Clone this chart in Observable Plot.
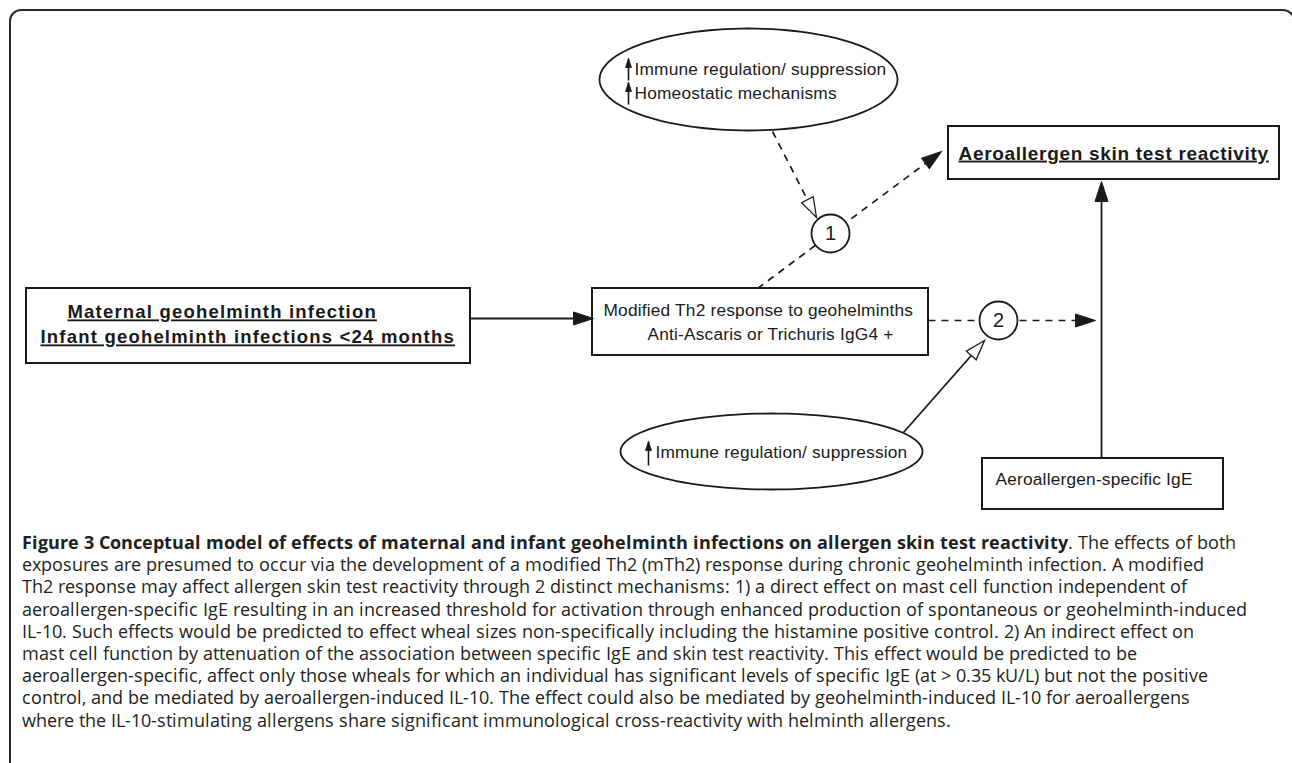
<!DOCTYPE html>
<html><head><meta charset="utf-8">
<script src="https://cdn.jsdelivr.net/npm/d3@7"></script>
<script src="https://cdn.jsdelivr.net/npm/@observablehq/plot@0.6"></script>
<style>
@font-face{font-family:"CaptionSans";src:local("Open Sans"),local("Open Sans Regular"),local("OpenSans-Regular");font-weight:400;ascent-override:92%;descent-override:26%;line-gap-override:0%;}
@font-face{font-family:"CaptionSans";src:local("Open Sans Bold"),local("OpenSans-Bold");font-weight:700;ascent-override:92%;descent-override:26%;line-gap-override:0%;}
html,body{margin:0;padding:0;background:#fff;}
body{width:1292px;height:763px;overflow:hidden;position:relative;}
#frame{position:absolute;left:9px;top:9px;width:1286px;height:800px;border:2px solid #2a2a2a;border-bottom:none;border-radius:12px 12px 0 0;box-sizing:border-box;pointer-events:none;}
#chart{position:absolute;left:0;top:0;}
#caption{position:absolute;left:22px;top:532px;font-family:"CaptionSans","Open Sans",sans-serif;font-size:18.1px;line-height:22.2px;color:#231f20;white-space:nowrap;}
#caption b{font-weight:700;}
</style></head>
<body>
<div id="chart"></div>
<div id="caption"></div>
<div id="frame"></div>
<script>
// ---- diagram content ----
const boxes = [
  {id: "exposure", x1: 26,  x2: 470,  y1: 288, y2: 363},
  {id: "mth2",     x1: 592, x2: 928,  y1: 288, y2: 355},
  {id: "outcome",  x1: 948, x2: 1279, y1: 126, y2: 179},
  {id: "ige",      x1: 982, x2: 1223, y1: 458, y2: 509}
];
const ellipses = [
  {id: "regulationTop",    cx: 748, cy: 79,  rx: 149, ry: 51},
  {id: "regulationBottom", cx: 771, cy: 451, rx: 151, ry: 38}
];
const mechanisms = [
  {label: "1", x: 830, y: 233},
  {label: "2", x: 998, y: 320}
];
const edges = [
  {x1: 470,  y1: 318, x2: 593,  y2: 318, dashed: false, head: "solid"},
  {x1: 757,  y1: 288, x2: 941,  y2: 151, dashed: true,  head: "solid"},
  {x1: 928,  y1: 320, x2: 1095, y2: 320, dashed: true,  head: "solid"},
  {x1: 1101, y1: 458, x2: 1101, y2: 181, dashed: false, head: "solid"},
  {x1: 772,  y1: 131, x2: 816,  y2: 217, dashed: true,  head: "open"},
  {x1: 903,  y1: 432, x2: 984,  y2: 340, dashed: false, head: "open"}
];
const exposureLabels = [
  {text: "Maternal geohelminth infection", x: 67, y: 312},
  {text: "Infant geohelminth infections <24 months", x: 40, y: 337}
];
const outcomeLabels = [
  {text: "Aeroallergen skin test reactivity", x: 958, y: 153}
];
const plainLabels = [
  {text: "Modified Th2 response to geohelminths", x: 603, y: 310},
  {text: "Anti-Ascaris or Trichuris IgG4 +", x: 647, y: 334},
  {text: "Immune regulation/ suppression", x: 634, y: 69},
  {text: "Homeostatic mechanisms", x: 634, y: 93},
  {text: "Immune regulation/ suppression", x: 655, y: 452},
  {text: "Aeroallergen-specific IgE", x: 995, y: 479}
];
const upArrows = [
  {x1: 628, y1: 80,  x2: 628, y2: 58},
  {x1: 628, y1: 104, x2: 628, y2: 82},
  {x1: 648, y1: 465, x2: 648, y2: 441}
];
const captionBold = "Figure 3 Conceptual model of effects of maternal and infant geohelminth infections on allergen skin test reactivity";
const captionLines = [
  ". The effects of both",
  "exposures are presumed to occur via the development of a modified Th2 (mTh2) response during chronic geohelminth infection. A modified",
  "Th2 response may affect allergen skin test reactivity through 2 distinct mechanisms: 1) a direct effect on mast cell function independent of",
  "aeroallergen-specific IgE resulting in an increased threshold for activation through enhanced production of spontaneous or geohelminth-induced",
  "IL-10. Such effects would be predicted to effect wheal sizes non-specifically including the histamine positive control. 2) An indirect effect on",
  "mast cell function by attenuation of the association between specific IgE and skin test reactivity. This effect would be predicted to be",
  "aeroallergen-specific, affect only those wheals for which an individual has significant levels of specific IgE (at > 0.35 kU/L) but not the positive",
  "control, and be mediated by aeroallergen-induced IL-10. The effect could also be mediated by geohelminth-induced IL-10 for aeroallergens",
  "where the IL-10-stimulating allergens share significant immunological cross-reactivity with helminth allergens."
];

// ---- derived geometry ----
const ellipsePts = ellipses.flatMap(e => d3.range(0, 361, 3).map(a => ({
  id: e.id, x: e.cx + e.rx * Math.cos(a * Math.PI / 180), y: e.cy + e.ry * Math.sin(a * Math.PI / 180)
})));
const angle = d => Math.atan2(d.x2 - d.x1, -(d.y2 - d.y1)) * 180 / Math.PI;
const bigHead = {draw(ctx) { const L = 20, W = 13; ctx.moveTo(0, 0); ctx.lineTo(-W / 2, L); ctx.lineTo(W / 2, L); ctx.closePath(); }};
const smallHead = {draw(ctx) { const L = 9, W = 6; ctx.moveTo(0, 0); ctx.lineTo(-W / 2, L); ctx.lineTo(W / 2, L); ctx.closePath(); }};
const trim = (d, len) => { const dx = d.x2 - d.x1, dy = d.y2 - d.y1, n = Math.hypot(dx, dy); return {x: d.x2 - dx / n * len, y: d.y2 - dy / n * len}; };
const H = 527;
const ink = "#1a1a1a";
const font = "Liberation Sans, Arial, Helvetica, sans-serif";

const plot = Plot.plot({
  width: 1292, height: H, margin: 0,
  x: {domain: [0, 1292], axis: null},
  y: {domain: [H, 0], axis: null},
  style: {background: "transparent"},
  marks: [
    Plot.link(edges.filter(d => d.dashed), {x1: "x1", y1: "y1", x2: d => trim(d, 12).x, y2: d => trim(d, 12).y, stroke: ink, strokeWidth: 1.7, strokeDasharray: "7,6"}),
    Plot.link(edges.filter(d => !d.dashed), {x1: "x1", y1: "y1", x2: d => trim(d, 12).x, y2: d => trim(d, 12).y, stroke: ink, strokeWidth: 1.8}),
    Plot.rect(boxes, {x1: "x1", x2: "x2", y1: "y1", y2: "y2", fill: "white", stroke: ink, strokeWidth: 2}),
    Plot.line(ellipsePts, {x: "x", y: "y", z: "id", fill: "white", stroke: ink, strokeWidth: 1.8}),
    Plot.dot(mechanisms, {x: "x", y: "y", r: 19, fill: "white", stroke: ink, strokeWidth: 1.8}),
    Plot.text(mechanisms, {x: "x", y: "y", text: "label", fontSize: 20, fontFamily: font, fill: ink}),
    Plot.dot(edges.filter(d => d.head === "solid"), {x: "x2", y: "y2", rotate: angle, symbol: bigHead, fill: ink, stroke: ink, strokeWidth: 1}),
    Plot.dot(edges.filter(d => d.head === "open"), {x: "x2", y: "y2", rotate: angle, symbol: bigHead, fill: "white", stroke: ink, strokeWidth: 1.3}),
    Plot.link(upArrows, {x1: "x1", y1: "y1", x2: "x2", y2: "y2", stroke: ink, strokeWidth: 1.6}),
    Plot.dot(upArrows, {x: "x2", y: "y2", rotate: angle, symbol: smallHead, fill: ink, stroke: ink, strokeWidth: 0.8}),
    Plot.text(exposureLabels, {x: "x", y: "y", text: "text", textAnchor: "start", fontSize: 18.5, fontWeight: "bold", fontFamily: font, fill: ink}),
    Plot.text(outcomeLabels, {x: "x", y: "y", text: "text", textAnchor: "start", fontSize: 19, fontWeight: "bold", fontFamily: font, fill: ink}),
    Plot.text(plainLabels, {x: "x", y: "y", text: "text", textAnchor: "start", fontSize: 17.3, fontFamily: font, fill: ink})
  ]
});
document.getElementById("chart").appendChild(plot);
// underline + loose spacing on the bold node labels, slight tracking on plain labels
const txt = d3.select(plot).selectAll("text");
txt.filter(function() { return exposureLabels.some(b => b.text === this.textContent); })
  .style("text-decoration", "underline").style("letter-spacing", "1.2px");
txt.filter(function() { return outcomeLabels.some(b => b.text === this.textContent); })
  .style("text-decoration", "underline").style("letter-spacing", "0.7px");
txt.filter(function() { return plainLabels.some(b => b.text === this.textContent); })
  .style("letter-spacing", "0.2px");

// caption
const cap = d3.select("#caption");
captionLines.forEach((line, i) => {
  const div = cap.append("div");
  if (i === 0) div.append("b").text(captionBold);
  div.append("span").text(line);
});
</script>
</body></html>
